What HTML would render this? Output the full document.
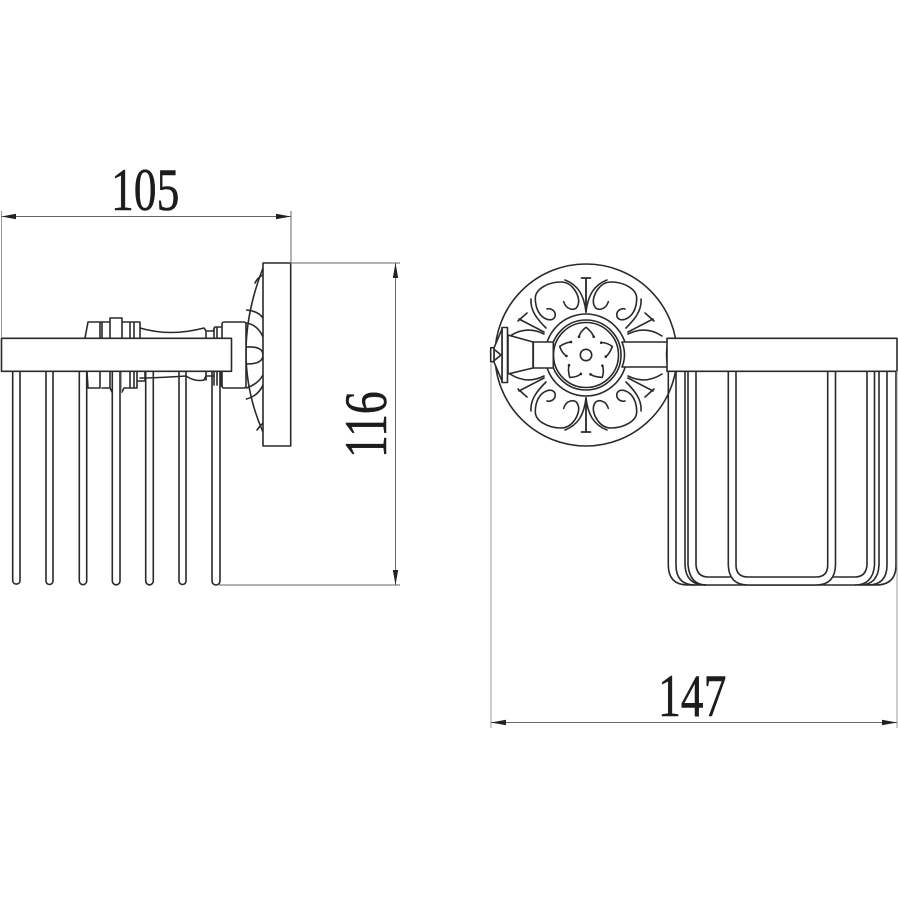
<!DOCTYPE html>
<html><head><meta charset="utf-8"><style>
html,body{margin:0;padding:0;background:#fff}
svg{display:block}
.o{fill:none;stroke:#2a2a2a;stroke-width:1.6;stroke-linejoin:round;stroke-linecap:round}
.w{fill:#fff;stroke:#2a2a2a;stroke-width:1.6;stroke-linejoin:round}
.d{fill:none;stroke:#666;stroke-width:1}
.e{fill:none;stroke:#999;stroke-width:1}
.a{fill:#222;stroke:none}
text{font-family:"Liberation Serif",serif;font-size:60px;fill:#1c1c1c;stroke:#1c1c1c;stroke-width:.5}
</style></head><body>
<svg width="898" height="898" viewBox="0 0 898 898" xmlns="http://www.w3.org/2000/svg">
<defs>
<g id="q">
<path class="o" d="M22.300,-53.300 C20,-45 11,-44 9,-48 C5,-54 9,-62 12,-66 C15,-70 19,-73 25,-73 C38,-73 50.700,-66 50.700,-56.700 C50.700,-46 46,-38 39,-35.700 C33,-34 30,-37 31,-42 C32,-45 36,-47 39,-46"/>
<path class="o" d="M0,-43 V-77 M-4.500,-77 H4.500"/>
<path class="o" d="M21,-75 C8,-70 2,-60 0,-43"/>
<path class="o" d="M55,-56 C56,-44 48,-35 40,-27"/>
<path class="o" d="M67,-36 L42,-23 M59,-42 L68,-34"/>
<path class="o" d="M76,-19 C62,-28 50,-25 42,-21"/>
</g>
<g id="f"><path class="o" d="M-7,-18.300 Q-6,-23 0,-27.700 Q6,-23 7.700,-18.300"/><circle class="a" cx="-7" cy="-18.300" r="1.300"/><circle class="a" cx="7.700" cy="-18.300" r="1.300"/></g>
</defs>

<!-- LEFT VIEW: neck and nuts -->
<path class="o" d="M263,268 Q229,355 263,432"/>
<path class="o" d="M246.700,310 Q258,311 263,318 M246.500,323 Q258,325 263,337 M246.500,347 Q263,346 263,355 Q263,364 246.500,364 M246.500,388 Q258,384 263,375 M246.500,399 Q258,396 263,385 M255,283 Q258,277 263,275 M257,430 Q260,426 263,423"/>
<rect class="w" x="222" y="322" width="24" height="66" rx="2"/>
<path class="o" d="M140,328 Q170,337 204,328 L206,331 H213 L215,327 H221 M206,331 V338 M214,328 V338 M217,327 V338"/>
<path class="o" d="M140,378 Q155,378 186,376 Q195,382 204,380 L206,376 H214 M206,372 V380 M214,372 V385 M217,372 V385 M221,372 V386"/>
<path class="o" d="M85,338 L88,322 H100 V338 M100,322 H110 M102,322 V338 M110,318 H122 V338 M110,318 V338 M122,322 H140 V338 M130,322 V338 M134,322 V338"/>
<path class="o" d="M87,372 L88,388 H100 V372 M102,388 H110 V372 M110,388 L112,392 M122,392 L124,388 H137 V372 M130,388 V372 M134,388 V372 M137,381 H145 V372"/>
<path fill="#aaa" d="M120,372h2v20h-2z"/>
<rect class="w" x="263" y="263" width="27.700" height="183"/>
<!-- tines -->
<path class="o" d="M12.700,371 V581 a3.700,3.700 0 0 0 7.300,0 V371 M46,371 V581 a3.500,3.500 0 0 0 7,0 V371 M79.300,371 V581 a3.700,3.700 0 0 0 7.400,0 V371 M112.300,371 V581 a3.800,3.800 0 0 0 7.700,0 V371 M145.700,371 V581 a3.800,3.800 0 0 0 7.600,0 V371 M179,371 V581 a3.500,3.500 0 0 0 7,0 V371 M212,371 V581 a4,4 0 0 0 8,0 V371"/>
<rect class="w" x="1.500" y="338.300" width="230" height="33"/>

<!-- RIGHT VIEW: rosette -->
<circle class="o" cx="586" cy="355" r="91"/>
<g transform="translate(586,355)">
<use href="#q"/><use href="#q" transform="scale(-1,1)"/><use href="#q" transform="scale(1,-1)"/><use href="#q" transform="scale(-1,-1)"/>
<circle class="o" r="41"/>
<circle class="w" r="35"/>
<circle class="o" r="32.500"/>
<circle class="o" cy="0" r="5.700"/>
<use href="#f"/><use href="#f" transform="rotate(72)"/><use href="#f" transform="rotate(144)"/><use href="#f" transform="rotate(216)"/><use href="#f" transform="rotate(288)"/>
</g>
<!-- arm -->
<path class="w" d="M622,342 H668 Q665,355 668,367 H622 Q627,355 622,342 Z"/>
<path class="w" d="M508,335 L533,342 V368 L508,374 Z"/>
<rect class="w" x="533.300" y="342" width="20" height="26"/>
<rect class="w" x="502" y="327.500" width="5.500" height="55"/>
<path class="w" d="M502,329 L494,348 V362 L502,381 Z"/>
<rect class="w" x="490.700" y="347.700" width="3.300" height="14"/>
<path class="o" d="M495,350 L501,355 L495,360"/>

<!-- basket -->
<path class="o" d="M668.300,371 V565 Q668.300,585 688,585 H876 Q896,585 896,565 V371"/>
<path class="o" d="M676,371 V565 Q676,585 695,585 M887,371 V565 Q887,585 868,585"/>
<path class="o" d="M685,371 V565 Q686,585 705,585 M879,371 V565 Q878,585 860,585"/>
<path class="o" d="M688,371 V565 Q690,585 706,585 M874.500,371 V565 Q873,585 855,585"/>
<path class="o" d="M696,371 V565 Q697,577 708,577 H730 M867,371 V565 Q866,577 855,577 H834"/>
<path class="w" d="M728.300,371 V565 Q729,585 748,585 H816 Q835,585 835.500,565 V371 H827.700 V565 Q827.700,577 816,577 H748 Q736,577 736,565 V371 Z"/>
<rect class="w" x="667" y="338.300" width="230" height="33"/>

<!-- dimensions -->
<path class="e" d="M1.500,211 V338 M491,362 V728 M897,371 V728"/>
<path class="d" d="M291,211 V263 M290,263 H400 M219,585 H400"/>
<path class="d" d="M1.500,216.500 H291 M395.500,263 V585 M491,722.500 H897"/>
<path class="a" d="M1.500,216.500 L16,213.800 V219.200 Z M291,216.500 L276,213.800 V219.200 Z M395.500,263 L392.800,278 H398.200 Z M395.500,585 L392.800,570 H398.200 Z M491,722.500 L506,719.800 V725.200 Z M897,722.500 L882,719.800 V725.200 Z"/>
<text transform="translate(111,210) scale(.76,1)">105</text>
<text transform="translate(658,716) scale(.76,1)">147</text>
<text transform="translate(386,458) rotate(-90) scale(.76,1)">116</text>
</svg>
</body></html>
